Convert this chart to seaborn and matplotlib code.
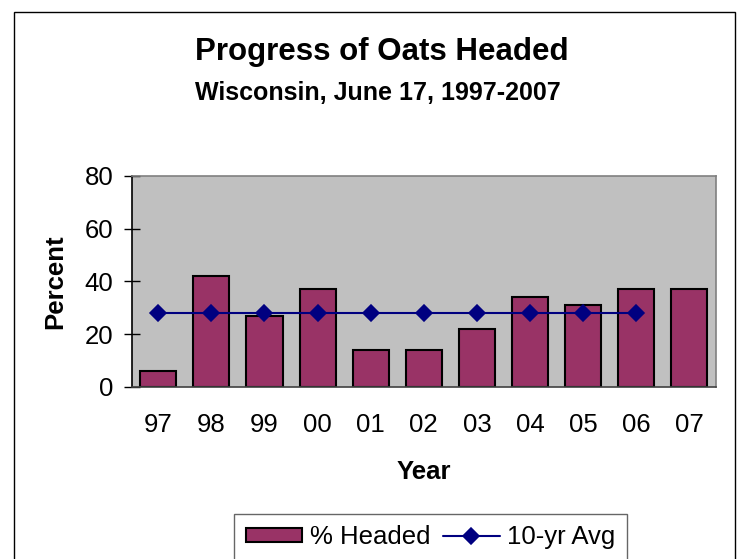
import matplotlib
matplotlib.use("Agg")
import matplotlib.pyplot as plt
import seaborn as sns
import pandas as pd
from matplotlib.patches import Rectangle
from matplotlib.ticker import FixedLocator

# data
years = ["97", "98", "99", "00", "01", "02", "03", "04", "05", "06", "07"]
pct_headed = [6, 42, 27, 37, 14, 14, 22, 34, 31, 37, 37]
avg_years = ["97", "98", "99", "00", "01", "02", "03", "04", "05", "06"]
avg_10yr = [28, 28, 28, 28, 28, 28, 28, 28, 28, 28]

sns.set_style("white")
plt.rcParams["font.family"] = ["Liberation Sans", "DejaVu Sans"]
plt.rcParams["text.color"] = "black"
plt.rcParams["axes.labelcolor"] = "black"
plt.rcParams["xtick.color"] = "black"
plt.rcParams["ytick.color"] = "black"

df = pd.DataFrame({"Year": years, "Pct": pct_headed})
avg_df = pd.DataFrame({"Year": avg_years, "Avg": avg_10yr})

fig = plt.figure(figsize=(7.49, 5.59), dpi=100)
ax = fig.add_axes([0.1758, 0.3077, 0.7800, 0.3775])
ax.set_facecolor("#C0C0C0")

sns.barplot(data=df, x="Year", y="Pct", order=years, color="#993366",
            saturation=1, width=0.68, edgecolor="black", linewidth=1.5,
            ax=ax, label="% Headed", zorder=2)
sns.pointplot(data=avg_df, x="Year", y="Avg", order=years, color="#000080",
              markers="D", linestyles="-", markersize=8, linewidth=1.5,
              ax=ax, label="10-yr Avg", zorder=3)

ax.set_xlim(-0.5, 10.5)
ax.set_ylim(0, 80)
ax.set_yticks([0, 20, 40, 60, 80])

# tick marks sit between the categories
ax.xaxis.set_minor_locator(FixedLocator([i - 0.5 for i in range(len(years) + 1)]))
ax.tick_params(axis="x", which="major", length=0, pad=19, labelsize=18.5)
ax.tick_params(axis="x", which="minor", direction="inout", length=12, width=1, color="#404040")
ax.tick_params(axis="y", direction="inout", length=12, width=1, pad=7, labelsize=18.5, left=True)

for side in ["top", "right"]:
    ax.spines[side].set_color("#808080")
ax.spines["left"].set_color("black")
ax.spines["bottom"].set_color("#404040")
for sp in ax.spines.values():
    sp.set_visible(True)
    sp.set_linewidth(1.2)

ax.set_xlabel("Year", fontsize=18.5, fontweight="bold", labelpad=16)
ax.set_ylabel("Percent", fontsize=18.5, fontweight="bold", labelpad=13)

fig.text(0.51, 0.907, "Progress of Oats Headed", ha="center", va="center",
         fontsize=22.5, fontweight="bold")
fig.text(0.505, 0.834, "Wisconsin, June 17, 1997-2007", ha="center", va="center",
         fontsize=18, fontweight="bold")

if ax.get_legend() is not None:
    ax.get_legend().remove()
handles, labels = ax.get_legend_handles_labels()
order = [labels.index("% Headed"), labels.index("10-yr Avg")]
leg = fig.legend([handles[i] for i in order], [labels[i] for i in order],
                 loc="upper center", bbox_to_anchor=(0.575, 0.081),
                 ncol=2, fontsize=18.5, frameon=True, fancybox=False, edgecolor="#404040",
                 handlelength=2.2, handleheight=0.5, handletextpad=0.3, columnspacing=0.5,
                 borderpad=0.45, borderaxespad=0)
leg.get_frame().set_linewidth(1.0)

fig.add_artist(Rectangle((14 / 749, -0.05), 721 / 749, 1 - 12 / 559 + 0.05,
                         transform=fig.transFigure, fill=False, edgecolor="black",
                         linewidth=1.0))

fig.savefig("out.png", dpi=100)
